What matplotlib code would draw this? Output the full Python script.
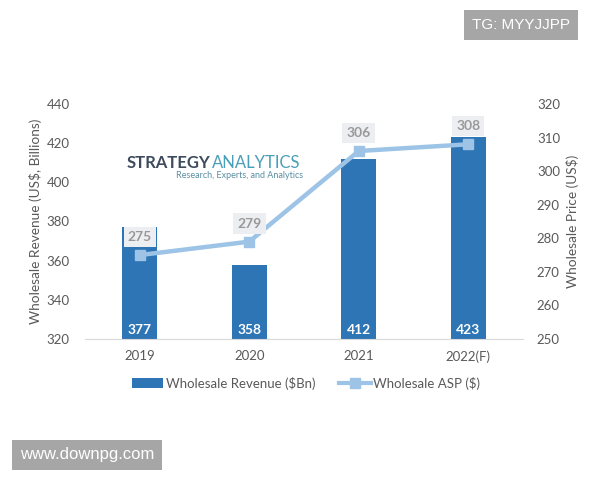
import matplotlib
matplotlib.use("Agg")
import matplotlib.pyplot as plt
from matplotlib.lines import Line2D
from matplotlib.patches import Patch

plt.rcParams["font.family"] = ["Lato", "DejaVu Sans"]

years = ["2019", "2020", "2021", "2022(F)"]
revenue = [377, 358, 412, 423]
asp = [275, 279, 306, 308]

bar_color = "#2E75B6"
line_color = "#9DC3E6"
text_gray = "#595959"

fig = plt.figure(figsize=(6, 4.8), dpi=100)
ax = fig.add_axes([85/600, 1-339/480, 438/600, 235/480])
x = list(range(len(years)))
ax.bar(x, revenue, width=0.32, color=bar_color, zorder=2)
ax.set_ylim(320, 440)
ax.set_xlim(-0.5, 3.5)
ax.set_yticks(range(320, 441, 20))
ax.set_xticks(x)
ax.set_xticklabels(years)
for s in ["top", "left", "right"]:
    ax.spines[s].set_visible(False)
ax.spines["bottom"].set_color("#d9d9d9")
ax.tick_params(axis="both", length=0, colors=text_gray, labelsize=9.5)
ax.tick_params(axis="x", pad=8)
ax.tick_params(axis="y", pad=11)
ax.set_ylabel("Wholesale Revenue (US$, Billions)", color=text_gray, fontsize=9.8, labelpad=3)

for xi, v in zip(x, revenue):
    ax.text(xi, 324.5, str(v), ha="center", va="center", color="white",
            fontsize=10, fontweight="bold", zorder=4)

ax2 = ax.twinx()
ax2.plot(x, asp, color=line_color, linewidth=3.2, marker="s", markersize=7.5,
         markerfacecolor=line_color, markeredgecolor=line_color, zorder=3)
ax2.set_ylim(250, 320)
ax2.set_yticks(range(250, 321, 10))
for s in ["top", "left", "right", "bottom"]:
    ax2.spines[s].set_visible(False)
ax2.tick_params(axis="y", length=0, colors=text_gray, labelsize=9.5, pad=10)
ax2.set_ylabel("Wholesale Price (US$)", color=text_gray, fontsize=9.8, labelpad=4)
for xi, v in zip(x, asp):
    ax2.annotate(str(v), (xi, v), xytext=(0, 13), textcoords="offset points",
                 ha="center", va="center", color="#999999", fontsize=10,
                 fontweight="bold",
                 bbox=dict(boxstyle="square,pad=0.3", fc="#eceef2", ec="none"),
                 zorder=5)

# logo
t1 = fig.text(127/600, 1-163/480, "STRATEGY", color="#3d4b5c", fontsize=12,
              fontweight="bold", ha="left", va="center")
fig.canvas.draw()
bb = t1.get_window_extent()
fig.text(bb.x1 / fig.bbox.width + 1/600, 1-163/480, "ANALYTICS", color="#4a9fb8",
         fontsize=12, ha="left", va="center")
fig.text(303/600, 1-176/480, "Research, Experts, and Analytics", color="#5a8fa3",
         fontsize=6.5, ha="right", va="center")

# legend
handles = [Patch(facecolor=bar_color, edgecolor="none"),
           Line2D([0], [0], color=line_color, lw=3, marker="s", markersize=7)]
fig.legend(handles, ["Wholesale Revenue ($Bn)", "Wholesale ASP ($)"],
           loc="center", bbox_to_anchor=(306/600, 1-383/480), ncol=2,
           frameon=False, fontsize=9.5, labelcolor=text_gray,
           handlelength=2.4, handletextpad=0.2, columnspacing=1.8)

# watermarks
fig.text(521/600, 1-25/480, "TG: MYYJJPP", color="white", fontsize=11,
         ha="center", va="center", family="Liberation Sans",
         bbox=dict(boxstyle="square,pad=0.5", fc="#a6a6a6", ec="none"))
fig.text(87/600, 1-455/480, "www.downpg.com", color="white", fontsize=12,
         ha="center", va="center", family="Liberation Sans",
         bbox=dict(boxstyle="square,pad=0.45", fc="#a6a6a6", ec="none"))

fig.savefig("out.png", dpi=100)
